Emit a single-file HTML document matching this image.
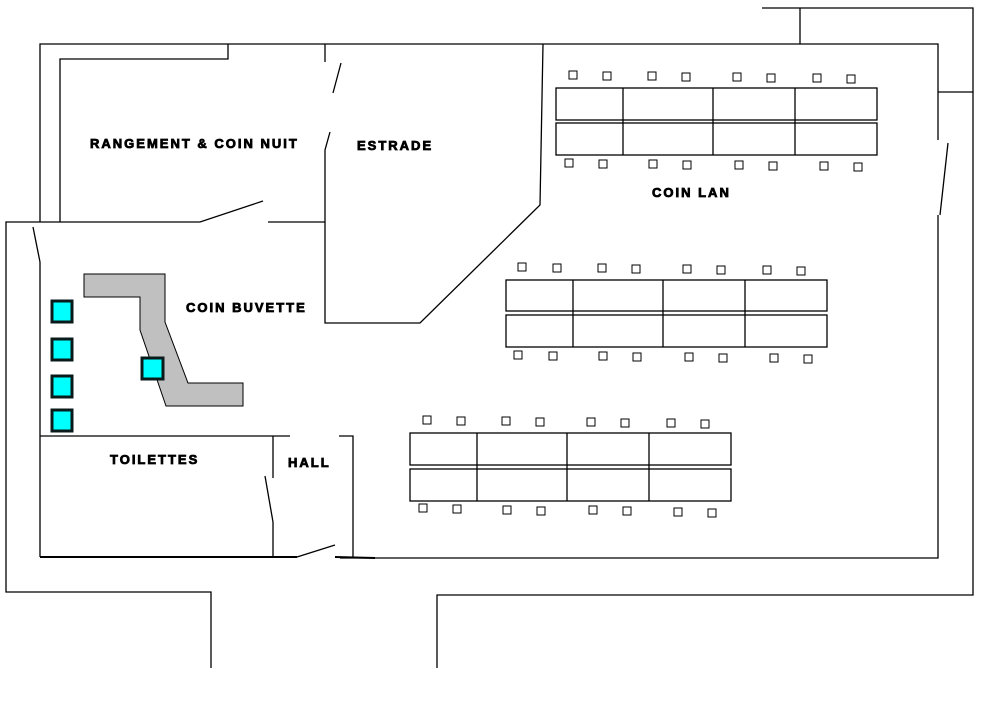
<!DOCTYPE html>
<html><head><meta charset="utf-8"><style>
html,body{margin:0;padding:0;background:#fff;}
svg{display:block;}
text{font-family:"Liberation Sans",sans-serif;font-weight:bold;font-size:13px;fill:#000;letter-spacing:2px;stroke:#000;stroke-width:0.8px;}
</style></head><body>
<svg width="987" height="723" viewBox="0 0 987 723" xmlns="http://www.w3.org/2000/svg">
<g stroke="#000" stroke-width="1.3" fill="none">
<polyline points="40,222 40,44 938,44 938,140"/>
<line x1="948" y1="143" x2="940" y2="215"/>
<polyline points="938,215 938,558 340,558"/>
<polyline points="762,8 973,8 973,595 437,595 437,668"/>
<line x1="800" y1="8" x2="800" y2="44"/>
<line x1="938" y1="92" x2="973" y2="92"/>
<polyline points="40,222 6,222 6,592 211,592 211,668"/>
<polyline points="228,44 228,59 60,59 60,222"/>
<polyline points="40,222 200,222 263,201"/>
<line x1="268" y1="222" x2="325" y2="222"/>
<line x1="325" y1="44" x2="325" y2="62"/>
<line x1="341" y1="63" x2="333" y2="93"/>
<polyline points="330,132 325,150 325,323 420,323 540,205 543,44"/>
<line x1="33" y1="227" x2="40" y2="262"/>
<line x1="40" y1="262" x2="40" y2="557"/>
<line x1="40" y1="436" x2="290" y2="436"/>
<line x1="273" y1="436" x2="273" y2="478"/>
<line x1="265" y1="476" x2="273" y2="522"/>
<line x1="273" y1="522" x2="273" y2="557"/>
<line x1="40" y1="557" x2="297" y2="557" stroke-width="2"/>
<line x1="297" y1="557" x2="335" y2="545"/>
<polyline points="339,436 353,436 353,557"/>
<line x1="335" y1="557" x2="375" y2="558" stroke-width="2"/>
</g>
<polygon points="84,274 165,274 165,322 188,383 243,383 243,406 166,406 140,330 140,297 84,297" fill="#c0c0c0" stroke="#000" stroke-width="1"/>
<g fill="#00ffff" stroke="#0a1a1a" stroke-width="3">
<rect x="52" y="301" width="20" height="21"/>
<rect x="52" y="339" width="20" height="21"/>
<rect x="52" y="376" width="20" height="21"/>
<rect x="52" y="410" width="20" height="21"/>
<rect x="142" y="358" width="21" height="21"/>
</g>
<g stroke="#000" stroke-width="1.3" fill="none">
<rect x="556" y="88" width="321" height="32"/><rect x="556" y="123" width="321" height="32"/>
<path d="M623 88V155M713 88V155M795 88V155"/>
<rect x="506" y="280" width="321" height="31"/><rect x="506" y="315" width="321" height="32"/>
<path d="M573 280V347M663 280V347M745 280V347"/>
<rect x="410" y="433" width="321" height="32"/><rect x="410" y="469" width="321" height="32"/>
<path d="M477 433V501M567 433V501M649 433V501"/>
</g>
<g stroke="#000" stroke-width="1" fill="#fff">
<rect x="569" y="71" width="8" height="8"/><rect x="603" y="72" width="8" height="8"/><rect x="648" y="72" width="8" height="8"/><rect x="682" y="73" width="8" height="8"/><rect x="733" y="73" width="8" height="8"/><rect x="767" y="74" width="8" height="8"/><rect x="813" y="74" width="8" height="8"/><rect x="847" y="75" width="8" height="8"/>
<rect x="565" y="159" width="8" height="8"/><rect x="599" y="160" width="8" height="8"/><rect x="649" y="160" width="8" height="8"/><rect x="683" y="161" width="8" height="8"/><rect x="735" y="161" width="8" height="8"/><rect x="769" y="162" width="8" height="8"/><rect x="820" y="162" width="8" height="8"/><rect x="854" y="163" width="8" height="8"/>
<rect x="518" y="263" width="8" height="8"/><rect x="553" y="264" width="8" height="8"/><rect x="598" y="264" width="8" height="8"/><rect x="632" y="265" width="8" height="8"/><rect x="683" y="265" width="8" height="8"/><rect x="717" y="266" width="8" height="8"/><rect x="763" y="266" width="8" height="8"/><rect x="797" y="267" width="8" height="8"/>
<rect x="514" y="351" width="8" height="8"/><rect x="549" y="352" width="8" height="8"/><rect x="599" y="352" width="8" height="8"/><rect x="633" y="353" width="8" height="8"/><rect x="685" y="353" width="8" height="8"/><rect x="719" y="354" width="8" height="8"/><rect x="770" y="354" width="8" height="8"/><rect x="804" y="355" width="8" height="8"/>
<rect x="423" y="416" width="8" height="8"/><rect x="457" y="417" width="8" height="8"/><rect x="502" y="417" width="8" height="8"/><rect x="536" y="418" width="8" height="8"/><rect x="587" y="418" width="8" height="8"/><rect x="621" y="419" width="8" height="8"/><rect x="667" y="419" width="8" height="8"/><rect x="701" y="420" width="8" height="8"/>
<rect x="419" y="504" width="8" height="8"/><rect x="453" y="505" width="8" height="8"/><rect x="503" y="506" width="8" height="8"/><rect x="537" y="507" width="8" height="8"/><rect x="589" y="506" width="8" height="8"/><rect x="623" y="507" width="8" height="8"/><rect x="674" y="508" width="8" height="8"/><rect x="708" y="509" width="8" height="8"/>
</g>
<text x="90" y="148">RANGEMENT &amp; COIN NUIT</text>
<text x="357" y="150">ESTRADE</text>
<text x="652" y="197">COIN LAN</text>
<text x="186" y="312">COIN BUVETTE</text>
<text x="110" y="464">TOILETTES</text>
<text x="288" y="467">HALL</text>
</svg>
</body></html>
